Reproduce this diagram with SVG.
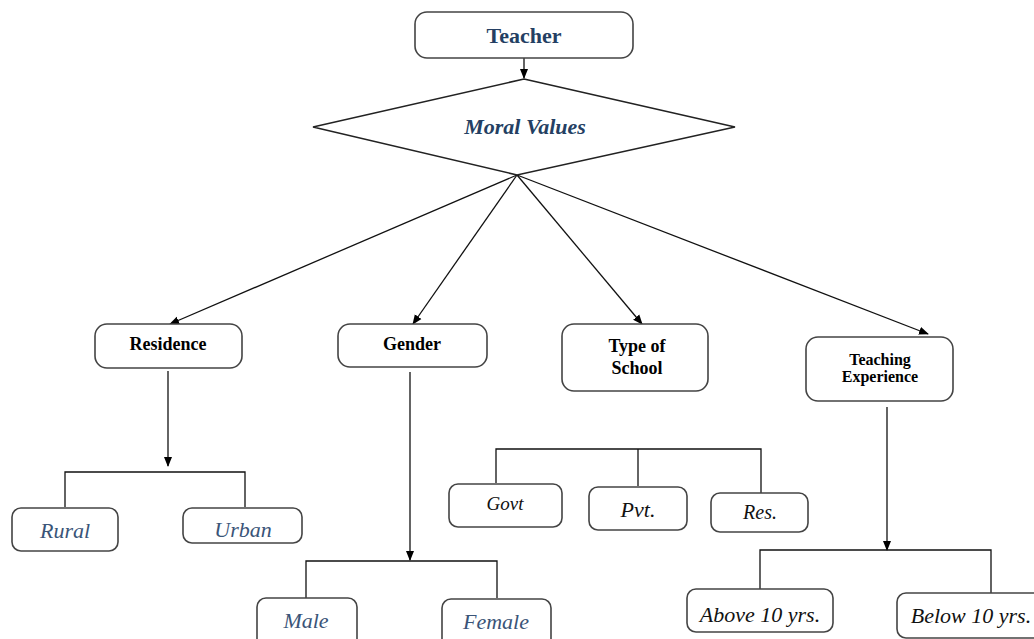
<svg xmlns="http://www.w3.org/2000/svg" width="1034" height="639" viewBox="0 0 1034 639" font-family="'Liberation Serif', 'Times New Roman', serif">
<defs>
<marker id="ah" markerWidth="10" markerHeight="10" refX="9" refY="5" orient="auto" markerUnits="userSpaceOnUse">
<path d="M0,1 L10,5 L0,9 Z" fill="#000"/>
</marker>
<style>
.box{fill:#fff;stroke:#444;stroke-width:1.6}
.ln{fill:none;stroke:#111;stroke-width:1.3}
text{font-family:'Liberation Serif','Times New Roman',serif;text-anchor:middle}
.hb{font-weight:bold;fill:#243f63}
.b{font-weight:bold;fill:#000}
.ib{font-style:italic;fill:#3a5478}
.ik{font-style:italic;fill:#111}
</style>
</defs>
<rect width="1034" height="639" fill="#fff"/>
<g id="connectors">
<line class="ln" x1="524" y1="58" x2="524" y2="78" marker-end="url(#ah)"/>
<line class="ln" x1="517" y1="175" x2="170" y2="324" marker-end="url(#ah)"/>
<line class="ln" x1="517" y1="175" x2="413" y2="324" marker-end="url(#ah)"/>
<line class="ln" x1="517" y1="175" x2="642" y2="324" marker-end="url(#ah)"/>
<line class="ln" x1="517" y1="175" x2="928" y2="334" marker-end="url(#ah)"/>
<line class="ln" x1="168" y1="371" x2="168" y2="466" marker-end="url(#ah)"/>
<polyline class="ln" points="65,507 65,472 245,472 245,507"/>
<line class="ln" x1="410" y1="372" x2="410" y2="560" marker-end="url(#ah)"/>
<polyline class="ln" points="306,598 306,561 497,561 497,598"/>
<polyline class="ln" points="496,483 496,449 761,449 761,493"/>
<line class="ln" x1="638" y1="449" x2="638" y2="486"/>
<line class="ln" x1="887" y1="407" x2="887" y2="550" marker-end="url(#ah)"/>
<polyline class="ln" points="760,597 760,550 991,550 991,594"/>
</g>
<g id="teacher">
<rect class="box" x="415" y="12" width="218" height="46" rx="12"/>
<text class="hb" x="524" y="43" font-size="22">Teacher</text>
</g>
<g id="moral-values">
<polygon points="524,79 735,127 517,175 313,127" fill="#fff" stroke="#222" stroke-width="1.5"/>
<text class="hb" x="525" y="134" font-size="22" font-style="italic">Moral Values</text>
</g>
<g id="residence">
<rect class="box" x="95" y="324" width="147" height="44" rx="12"/>
<text class="b" x="168" y="350" font-size="18">Residence</text>
</g>
<g id="gender">
<rect class="box" x="338" y="324" width="149" height="43" rx="12"/>
<text class="b" x="412" y="350" font-size="18">Gender</text>
</g>
<g id="type-of-school">
<rect class="box" x="562" y="324" width="146" height="67" rx="12"/>
<text class="b" x="637" y="352" font-size="18">Type of</text>
<text class="b" x="637" y="374" font-size="18">School</text>
</g>
<g id="teaching-experience">
<rect class="box" x="806" y="337" width="147" height="64" rx="12"/>
<text class="b" x="880" y="365" font-size="16">Teaching</text>
<text class="b" x="880" y="382" font-size="16">Experience</text>
</g>
<g id="rural">
<rect class="box" x="12" y="508" width="106" height="43" rx="9"/>
<text class="ib" x="65" y="538" font-size="22">Rural</text>
</g>
<g id="urban">
<rect class="box" x="183" y="508" width="119" height="35" rx="9"/>
<text class="ib" x="243" y="537" font-size="22">Urban</text>
</g>
<g id="male">
<rect class="box" x="257" y="598" width="100" height="50" rx="9"/>
<text class="ib" x="306" y="628" font-size="22">Male</text>
</g>
<g id="female">
<rect class="box" x="442" y="599" width="109" height="50" rx="9"/>
<text class="ib" x="496" y="629" font-size="22">Female</text>
</g>
<g id="govt">
<rect class="box" x="449" y="484" width="113" height="43" rx="9"/>
<text class="ik" x="505" y="510" font-size="19">Govt</text>
</g>
<g id="pvt">
<rect class="box" x="589" y="487" width="98" height="43" rx="9"/>
<text class="ik" x="638" y="517" font-size="22">Pvt.</text>
</g>
<g id="res">
<rect class="box" x="711" y="493" width="97" height="39" rx="9"/>
<text class="ik" x="760" y="519" font-size="20">Res.</text>
</g>
<g id="above-10">
<rect class="box" x="687" y="589" width="146" height="43" rx="9"/>
<text class="ik" x="760" y="622" font-size="22">Above 10 yrs.</text>
</g>
<g id="below-10">
<rect class="box" x="897" y="593" width="150" height="45" rx="9"/>
<text class="ik" x="971" y="623" font-size="22">Below 10 yrs.</text>
</g>
</svg>
